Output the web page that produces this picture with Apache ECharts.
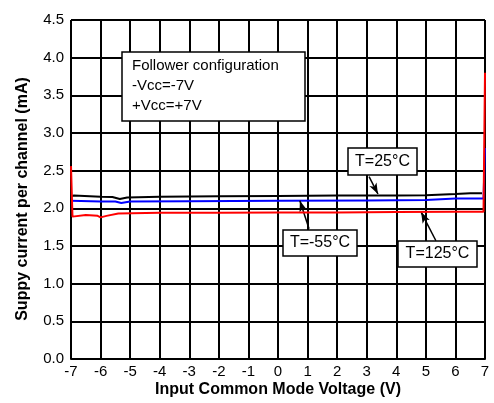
<!DOCTYPE html>
<html><head><meta charset="utf-8">
<script src="https://cdn.jsdelivr.net/npm/echarts@6/dist/echarts.min.js"></script>
<style>html,body{margin:0;padding:0;background:#fff}#c{width:494px;height:403px}</style>
</head><body><div id="c"></div>
<script>
var xTicks = [-7,-6,-5,-4,-3,-2,-1,0,1,2,3,4,5,6,7];
var yTicks = [0,0.5,1,1.5,2,2.5,3,3.5,4,4.5];
var t25 = [[-7,2.16],[-6.9,2.17],[-6,2.155],[-5.6,2.15],[-5.35,2.125],[-5.1,2.145],[-4,2.155],[-2,2.16],[0,2.165],[2,2.17],[4,2.17],[5,2.175],[6,2.19],[6.5,2.2],[6.9,2.2]];
var tm55 = [[-7,2.1],[-6.95,2.09],[-6,2.09],[-5.5,2.09],[-5.3,2.07],[-5,2.09],[-3,2.095],[0,2.1],[3,2.105],[5,2.11],[6,2.13],[6.95,2.13],[7,2.8]];
var t125 = [[-7,2.56],[-6.95,1.89],[-6.5,1.91],[-6.1,1.9],[-6,1.88],[-5.8,1.9],[-5.4,1.93],[-4,1.94],[-2,1.94],[0,1.945],[2,1.945],[4,1.95],[6,1.955],[6.95,1.955],[7,3.8]];
var arrows = {
  t25: [[3.08,2.42],[3.38,2.19]],
  tm55: [[1.05,1.73],[0.74,2.10]],
  t125: [[5.34,1.57],[4.84,1.95]]
};
var FONT = 'Liberation Sans, Arial, sans-serif';
function arrowLine(a){
  return {silent:true,symbol:['none','arrow'],symbolSize:[6,11],
    lineStyle:{color:'#000',width:1.5,type:'solid'},label:{show:false},
    data:[[{coord:a[0]},{coord:a[1]}]]};
}
var chart = echarts.init(document.getElementById('c'));
chart.setOption({
  animation:false,
  backgroundColor:'#fff',
  grid:{left:71,right:9,top:20,bottom:44},
  xAxis:{type:'value',min:-7,max:7,interval:1,
    axisLine:{show:true,lineStyle:{color:'#000',width:2}},
    axisTick:{show:false},
    axisLabel:{color:'#000',fontSize:15,fontFamily:FONT,margin:5},
    splitLine:{show:true,lineStyle:{color:'#000',width:2}}
  },
  yAxis:{type:'value',min:0,max:4.5,interval:0.5,
    axisLine:{show:true,lineStyle:{color:'#000',width:2}},
    axisTick:{show:false},
    axisLabel:{color:'#000',fontSize:15,fontFamily:FONT,margin:7,formatter:function(v){return v.toFixed(1);}},
    splitLine:{show:true,lineStyle:{color:'#000',width:2}}
  },
  series:[
    {type:'line',data:t25,showSymbol:false,lineStyle:{color:'#000',width:2},z:3,markLine:arrowLine(arrows.t25)},
    {type:'line',data:tm55,showSymbol:false,lineStyle:{color:'#0000ff',width:2},z:4,markLine:arrowLine(arrows.tm55)},
    {type:'line',data:t125,showSymbol:false,lineStyle:{color:'#ff0000',width:2},z:5,markLine:arrowLine(arrows.t125)}
  ],
  graphic:[
    {type:'rect',shape:{x:122,y:52,width:183,height:69},style:{fill:'#fff',stroke:'#000',lineWidth:1.5},z:10},
    {type:'text',x:132,y:56,style:{text:'Follower configuration\n-Vcc=-7V\n+Vcc=+7V',font:'15px '+FONT,fill:'#000',lineHeight:20},z:11},
    {type:'rect',shape:{x:348,y:148,width:69,height:27},style:{fill:'#fff',stroke:'#000',lineWidth:1.5},z:10},
    {type:'text',x:382.5,y:161.5,style:{text:'T=25°C',font:'16px '+FONT,fill:'#000',align:'center',verticalAlign:'middle'},z:11},
    {type:'rect',shape:{x:283,y:230,width:74,height:26},style:{fill:'#fff',stroke:'#000',lineWidth:1.5},z:10},
    {type:'text',x:320,y:243,style:{text:'T=-55°C',font:'16px '+FONT,fill:'#000',align:'center',verticalAlign:'middle'},z:11},
    {type:'rect',shape:{x:398,y:241,width:79,height:26},style:{fill:'#fff',stroke:'#000',lineWidth:1.5},z:10},
    {type:'text',x:437.5,y:254,style:{text:'T=125°C',font:'16px '+FONT,fill:'#000',align:'center',verticalAlign:'middle'},z:11},
    {type:'text',x:278,y:390,style:{text:'Input Common Mode Voltage (V)',font:'bold 16px '+FONT,fill:'#000',align:'center',verticalAlign:'middle'},z:11},
    {type:'text',x:23,y:199,rotation:Math.PI/2,style:{text:'Suppy current per channel (mA)',font:'bold 16px '+FONT,fill:'#000',align:'center',verticalAlign:'middle'},z:11}
  ]
});
</script></body></html>
